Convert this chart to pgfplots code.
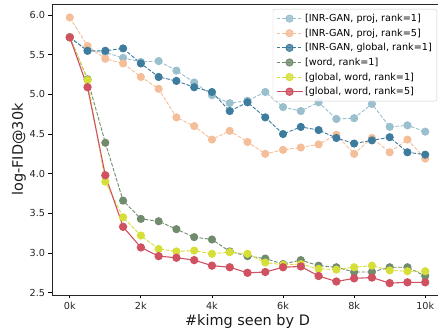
\documentclass[border=0pt]{standalone}
\usepackage{pgfplots}
\pgfplotsset{compat=1.18}
\usepackage{pgfplotstable}
\usepackage{fontspec}
\setmainfont{DejaVu Sans}
\definecolor{cLB}{RGB}{154,191,205}
\definecolor{cOR}{RGB}{244,190,152}
\definecolor{cDB}{RGB}{62,124,158}
\definecolor{cGR}{RGB}{112,140,108}
\definecolor{cYE}{RGB}{214,222,56}
\definecolor{cRE}{RGB}{208,82,96}
\pgfplotstableread{
x lb or db gr ye re
0 5.72 5.97 5.72 5.72 5.72 5.72
500 5.55 5.61 5.55 5.19 5.18 5.09
1000 5.53 5.45 5.55 4.39 3.90 3.98
1500 5.46 5.39 5.58 3.66 3.45 3.33
2000 5.41 5.22 5.39 3.43 3.22 3.07
2500 5.42 5.07 5.22 3.40 3.05 2.96
3000 5.30 4.71 5.17 3.30 3.02 2.94
3500 5.15 4.60 5.09 3.20 3.03 2.91
4000 4.99 4.43 5.03 3.17 2.99 2.84
4500 4.89 4.54 4.79 3.02 3.01 2.82
5000 4.92 4.40 4.90 2.96 2.99 2.75
5500 5.03 4.25 4.71 2.93 2.88 2.76
6000 4.84 4.30 4.50 2.86 2.85 2.82
6500 4.79 4.33 4.59 2.91 2.86 2.83
7000 4.90 4.37 4.55 2.84 2.80 2.71
7500 4.69 4.49 4.45 2.82 2.79 2.64
8000 4.70 4.25 4.38 2.76 2.82 2.68
8500 4.88 4.45 4.42 2.76 2.84 2.69
9000 4.59 4.27 4.46 2.82 2.78 2.62
9500 4.61 4.43 4.27 2.82 2.77 2.63
10000 4.53 4.19 4.24 2.71 2.77 2.63
}\data
\begin{document}
\begin{tikzpicture}
\begin{axis}[
  scale only axis,
  width=391bp, height=291bp,
  xmin=-500, xmax=10500,
  ymin=2.47, ymax=6.14,
  xtick={0,2000,4000,6000,8000,10000},
  xticklabels={0k,2k,4k,6k,8k,10k},
  ytick={2.5,3.0,3.5,4.0,4.5,5.0,5.5,6.0},
  yticklabel style={/pgf/number format/.cd,fixed,fixed zerofill,precision=1},
  /pgf/number format/assume math mode=true,
  scaled x ticks=false,
  tick align=outside,
  xtick pos=bottom, ytick pos=left,
  major tick length=3.5bp,
  every tick/.style={black, line width=0.8bp},
  axis line style={line width=0.8bp, black!85},
  tick label style={font=\fontsize{9.7}{11}\selectfont, text=black!85},
  xlabel={\#kimg seen by D},
  ylabel={log-FID@30k},
  label style={font=\fontsize{14.5}{16}\selectfont, text=black!90},
  xlabel style={yshift=2bp},
  ylabel style={yshift=-3bp},
  legend style={at={(rel axis cs:1,1)}, anchor=north east, xshift=-6bp, yshift=-5bp,
    font=\fontsize{9.7}{11}\selectfont, draw=black!20, rounded corners=2bp, fill=white, fill opacity=0.8, text opacity=1,
    row sep=1.8bp, inner xsep=3bp, inner ysep=3bp},
  legend cell align=left,
  legend image code/.code={\draw[mark repeat=2,mark phase=2] plot coordinates {(0bp,0bp)(13bp,0bp)(26bp,0bp)};},
  every axis plot/.append style={mark=*, mark size=3.6bp},
]
\coordinate (bl) at (rel axis cs:0,0);
\addplot[color=cLB, line width=0.9bp, dash pattern=on 3.7bp off 1.6bp, mark options={solid, fill=cLB, draw=cLB}] table[x=x,y=lb] {\data};
\addlegendentry{[INR-GAN, proj, rank=1]}
\addplot[color=cOR, line width=0.9bp, dash pattern=on 3.7bp off 1.6bp, mark options={solid, fill=cOR, draw=cOR}] table[x=x,y=or] {\data};
\addlegendentry{[INR-GAN, proj, rank=5]}
\addplot[color=cDB, line width=0.9bp, dash pattern=on 3.7bp off 1.6bp, mark options={solid, fill=cDB, draw=cDB}] table[x=x,y=db] {\data};
\addlegendentry{[INR-GAN, global, rank=1]}
\addplot[color=cGR, line width=0.9bp, dash pattern=on 3.7bp off 1.6bp, mark options={solid, fill=cGR, draw=cGR}] table[x=x,y=gr] {\data};
\addlegendentry{[word, rank=1]}
\addplot[color=cYE, line width=0.9bp, dash pattern=on 3.7bp off 1.6bp, mark options={solid, fill=cYE, draw=cYE}] table[x=x,y=ye] {\data};
\addlegendentry{[global, word, rank=1]}
\addplot[color=cRE, line width=1.1bp, solid, mark options={solid, fill=cRE, draw=cRE}] table[x=x,y=re] {\data};
\addlegendentry{[global, word, rank=5]}
\end{axis}
\pgfresetboundingbox
\useasboundingbox (bl) ++(-52bp,-41bp) rectangle ++(438bp,336bp);
\end{tikzpicture}
\end{document}
